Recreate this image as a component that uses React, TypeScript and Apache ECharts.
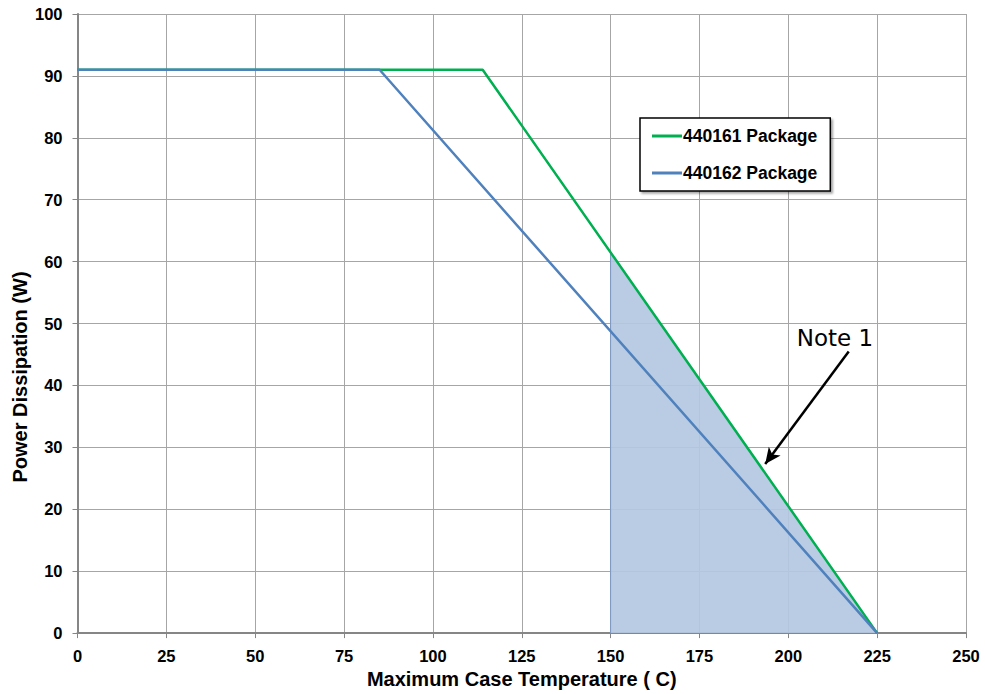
import React, { useEffect, useRef } from "react";
import * as echarts from "echarts";

const xTicks = [0, 25, 50, 75, 100, 125, 150, 175, 200, 225, 250];
const yTicks = [0, 10, 20, 30, 40, 50, 60, 70, 80, 90, 100];
const pkg161: [number, number][] = [[0, 91], [114, 91], [225, 0]];
const pkg162: [number, number][] = [[0, 91], [85, 91], [225, 0]];
const shaded: [number, number][] = [[150, 0], [150, 61.5], [225, 0]];
const noteArrow: [number, number][] = [[217, 45.5], [193.5, 27.3]];
const noteLabel = "Note 1";
const yTitle = "Power Dissipation (W)";
const xTitle = "Maximum Case Temperature ( C)";

export default function App() {
  const ref = useRef<HTMLDivElement>(null);
  useEffect(() => {
    document.body.style.margin = "0";
    if (!ref.current) return;
    const chart = echarts.init(ref.current, null, { renderer: "svg" });
    const font = "'Liberation Sans', Arial, sans-serif";
    chart.setOption({
      animation: false,
      backgroundColor: "#ffffff",
      grid: { left: 77.5, right: 19, top: 14, bottom: 60, containLabel: false },
      xAxis: {
        type: "value",
        min: xTicks[0],
        max: xTicks[xTicks.length - 1],
        interval: 25,
        name: xTitle,
        nameLocation: "middle",
        nameGap: 34,
        nameTextStyle: { fontFamily: font, fontWeight: "bold", fontSize: 20, color: "#000" },
        axisLine: { show: true, lineStyle: { color: "#868686", width: 2 } },
        axisTick: { show: true, length: 5, lineStyle: { color: "#868686" } },
        axisLabel: { fontFamily: font, fontWeight: "bold", fontSize: 16.5, color: "#000", margin: 14 },
        splitLine: { show: true, lineStyle: { color: "#a6a6a6", width: 1 } },
      },
      yAxis: {
        type: "value",
        min: yTicks[0],
        max: yTicks[yTicks.length - 1],
        interval: 10,
        axisLine: { show: true, lineStyle: { color: "#868686", width: 2 } },
        axisTick: { show: true, length: 5, lineStyle: { color: "#868686" } },
        axisLabel: { fontFamily: font, fontWeight: "bold", fontSize: 16.5, color: "#000", margin: 15 },
        splitLine: { show: true, lineStyle: { color: "#a6a6a6", width: 1 } },
      },
      legend: {
        orient: "vertical",
        left: 640,
        top: 118,
        data: [
          { name: "440161 Package", icon: "rect" },
          { name: "440162 Package", icon: "rect" },
        ],
        backgroundColor: "#ffffff",
        borderColor: "#000",
        borderWidth: 1.5,
        shadowColor: "rgba(0,0,0,0.35)",
        shadowOffsetX: 2,
        shadowOffsetY: 2,
        shadowBlur: 2,
        padding: [9, 13, 9, 12],
        itemGap: 19,
        itemWidth: 30,
        itemHeight: 3,
        textStyle: { fontFamily: font, fontWeight: "bold", fontSize: 17.5, color: "#000", padding: [0, 0, 0, -4], lineHeight: 18 },
      },
      graphic: [],
      series: [
        {
          name: "shade",
          type: "line",
          data: shaded,
          symbol: "none",
          lineStyle: { color: "#7d98c2", width: 1 },
          areaStyle: { color: "#b4c8e2", opacity: 0.92, origin: "start" },
          silent: true,
          z: 1,
          markLine: {
            silent: true,
            symbol: ["none", "arrow"],
            symbolSize: [11, 16],
            lineStyle: { color: "#000", width: 2.5, type: "solid" },
            label: { show: false },
            data: [[{ coord: noteArrow[0] }, { coord: noteArrow[1] }]],
          },
        },
        {
          name: "440161 Package",
          type: "line",
          data: pkg161,
          symbol: "none",
          lineStyle: { color: "#00b050", width: 2.5 },
          itemStyle: { color: "#00b050" },
          z: 3,
        },
        {
          name: "440162 Package",
          type: "line",
          data: pkg162,
          symbol: "none",
          lineStyle: { color: "#4f81bd", width: 2.5 },
          itemStyle: { color: "#4f81bd" },
          z: 4,
        },
      ],
    });
    const p = chart.convertToPixel({ gridIndex: 0 }, noteArrow[0]) as number[];
    chart.setOption({
      graphic: [
        {
          type: "text",
          x: p[0] - 52,
          y: p[1] - 25,
          style: {
            text: noteLabel,
            fontFamily: "'DejaVu Sans', Verdana, sans-serif",
            fontSize: 23,
            fill: "#000",
          },
          z: 100,
        },
        {
          type: "text",
          x: 20,
          y: 377,
          rotation: Math.PI / 2,
          style: {
            text: yTitle,
            fontFamily: font,
            fontWeight: "bold",
            fontSize: 20,
            fill: "#000",
            align: "center",
            verticalAlign: "middle",
          },
        },
      ],
    });
    return () => chart.dispose();
  }, []);
  return <div ref={ref} style={{ width: 985, height: 694 }} />;
}
